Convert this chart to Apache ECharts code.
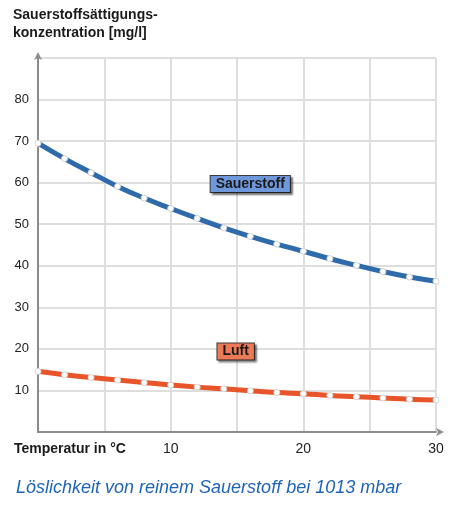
<!DOCTYPE html>
<html>
<head>
<meta charset="utf-8">
<script src="https://cdn.jsdelivr.net/npm/echarts@6/dist/echarts.min.js"></script>
<style>
  html, body { margin: 0; padding: 0; background: #fff; }
  #chart { width: 472px; height: 508px; }
</style>
</head>
<body>
<div id="chart"></div>
<script>
// temperature in °C, every 2 degrees
const temperatures = [0, 2, 4, 6, 8, 10, 12, 14, 16, 18, 20, 22, 24, 26, 28, 30];
// pure oxygen saturation [mg/l]
const sauerstoff = [69.5, 65.8, 62.4, 59.1, 56.3, 53.8, 51.4, 49.1, 47.1, 45.2, 43.5, 41.7, 40.1, 38.6, 37.3, 36.3];
// air saturation [mg/l]
const luft = [14.6, 13.8, 13.1, 12.5, 11.9, 11.3, 10.8, 10.4, 9.9, 9.5, 9.2, 8.8, 8.5, 8.2, 7.9, 7.7];

const xTickLabels = { 10: "10", 20: "20", 30: "30" };
const yTickLabels = [10, 20, 30, 40, 50, 60, 70, 80];

// label positions in data coords
const sauerstoffLabel = [16.0, 59.7];
const luftLabel = [14.9, 19.4];

const chart = echarts.init(document.getElementById("chart"));

const font = "'Liberation Sans', Arial, sans-serif";

const labelBox = (text, coord, bg) => ({
  name: text,
  coord: coord,
  symbol: "rect",
  symbolSize: 0,
  label: {
    show: true,
    formatter: text,
    position: "inside",
    color: "#1a1a1a",
    fontFamily: font,
    fontWeight: "bold",
    fontSize: 14,
    lineHeight: 15,
    backgroundColor: bg,
    borderColor: "#3a3a3a",
    borderWidth: 1,
    padding: [1, 5, 0, 5],
    shadowColor: "rgba(0,0,0,0.45)",
    shadowOffsetX: 2,
    shadowOffsetY: 2,
    shadowBlur: 2,
  },
});

const lineSeries = (name, data, color, coord, boxColor) => ({
  name: name,
  type: "line",
  data: temperatures.map((t, i) => [t, data[i]]),
  smooth: true,
  symbol: "circle",
  symbolSize: 6,
  showAllSymbol: true,
  lineStyle: { color: color, width: 5 },
  itemStyle: { color: "#fff", borderColor: "#d4d4d4", borderWidth: 1 },
  z: 3,
  markPoint: {
    silent: true,
    data: [labelBox(name, coord, boxColor)],
  },
});

const option = {
  backgroundColor: "#fff",
  animation: false,
  textStyle: { fontFamily: font },
  title: [
    {
      text: "Sauerstoffsättigungs-\nkonzentration [mg/l]",
      left: 8,
      top: 1,
      textStyle: {
        fontFamily: font,
        fontSize: 14,
        fontWeight: "bold",
        color: "#1a1a1a",
        lineHeight: 18,
      },
    },
    {
      text: "Löslichkeit von reinem Sauerstoff bei 1013 mbar",
      left: 11,
      top: 474,
      textStyle: {
        fontFamily: font,
        fontSize: 18,
        fontStyle: "italic",
        fontWeight: "normal",
        color: "#1f63b8",
      },
    },
    {
      text: "Temperatur in °C",
      left: 9,
      top: 437,
      textStyle: {
        fontFamily: font,
        fontSize: 14,
        fontWeight: "bold",
        color: "#1a1a1a",
      },
    },
  ],
  grid: {
    left: 38,
    right: 36,
    top: 58,
    bottom: 76,
    containLabel: false,
  },
  xAxis: {
    type: "value",
    min: 0,
    max: 30,
    interval: 5,
    axisLine: {
      show: true,
      lineStyle: { color: "#8c8c8c", width: 2 },
      symbol: ["none", "arrow"],
      symbolSize: [6, 8],
      symbolOffset: [0, 8],
    },
    axisTick: { show: false },
    axisLabel: {
      fontFamily: font,
      fontSize: 14,
      color: "#222",
      margin: 10,
      formatter: (v) => xTickLabels[v] || "",
    },
    splitLine: { show: true, lineStyle: { color: "#dedede", width: 2 } },
  },
  yAxis: {
    type: "value",
    min: 0,
    max: 90,
    interval: 10,
    axisLine: {
      show: true,
      lineStyle: { color: "#8c8c8c", width: 2 },
      symbol: ["none", "arrow"],
      symbolSize: [6, 8],
      symbolOffset: [0, 6],
    },
    axisTick: { show: false },
    axisLabel: {
      fontFamily: font,
      fontSize: 13,
      color: "#222",
      margin: 9,
      formatter: (v) => (yTickLabels.includes(v) ? String(v) : ""),
    },
    splitLine: { show: true, lineStyle: { color: "#dedede", width: 2 } },
  },
  series: [
    lineSeries("Sauerstoff", sauerstoff, "#2f6aab", sauerstoffLabel, "#6f98dc"),
    lineSeries("Luft", luft, "#e8552b", luftLabel, "#ec7a58"),
  ],
};

chart.setOption(option);
</script>
</body>
</html>
